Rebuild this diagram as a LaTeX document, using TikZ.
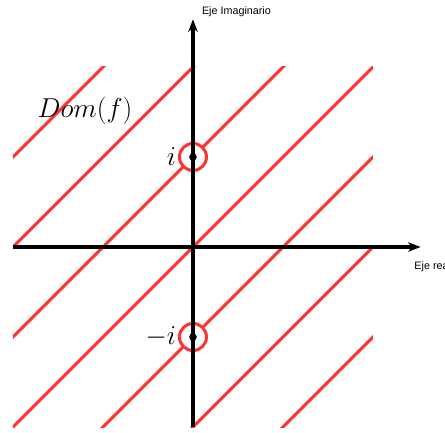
\documentclass[tikz,border=0pt]{standalone}
\usepackage{fontspec}
\newfontfamily\axisfont{Liberation Sans}
\usetikzlibrary{arrows.meta}
\definecolor{domred}{RGB}{255,51,51}
\tikzset{
    domline/.style={domred, line width=1.9pt},
    axis/.style={black, line width=2.4pt, -{Stealth[length=8pt,width=6pt]}},
    hole/.style={circle, draw=domred, fill=white, line width=1.9pt, minimum size=0.6cm, inner sep=0pt},
    axislabel/.style={font=\axisfont\fontsize{6.8}{8}\selectfont, inner sep=1pt}
}
\begin{document}
\begin{tikzpicture}[x=2cm, y=2cm]
    \useasboundingbox (-2.144,-2.056) rectangle (2.8,2.744);

    % Domain: lines y = x + c inside the square
    \begin{scope}
        \clip (-2,-2) rectangle (2,2);
        \foreach \c in {-3,...,3}
            \draw[domline] (-4,-4+\c) -- (4,4+\c);
    \end{scope}

    % Excluded points
    \node[hole] (pi) at (0,1) {};
    \node[hole] (mi) at (0,-1) {};

    % Axes
    \coordinate (xl) at (-2,0);
    \coordinate (xr) at (2.53,0);
    \coordinate (yb) at (0,-2);
    \coordinate (yt) at (0,2.53);
    \draw[axis] (xl) -- (xr);
    \draw[axis] (yb) -- (yt);
    \node[axislabel, anchor=base west] (ylab) at (0.08,2.58) {Eje Imaginario};
    \node[axislabel, anchor=north west] (xlab) at (2.44,-0.14) {Eje real};

    % Points and labels
    \fill (pi) circle (0.042);
    \fill (mi) circle (0.042);
    \node[left, inner sep=1pt, font=\LARGE] (lpi) at (pi.west) {$i$};
    \node[left, inner sep=1pt, font=\LARGE] (lmi) at (mi.west) {$-i$};
    \node[font=\LARGE] (dom) at (-1.2,1.52) {$Dom(f)$};
\end{tikzpicture}
\end{document}
